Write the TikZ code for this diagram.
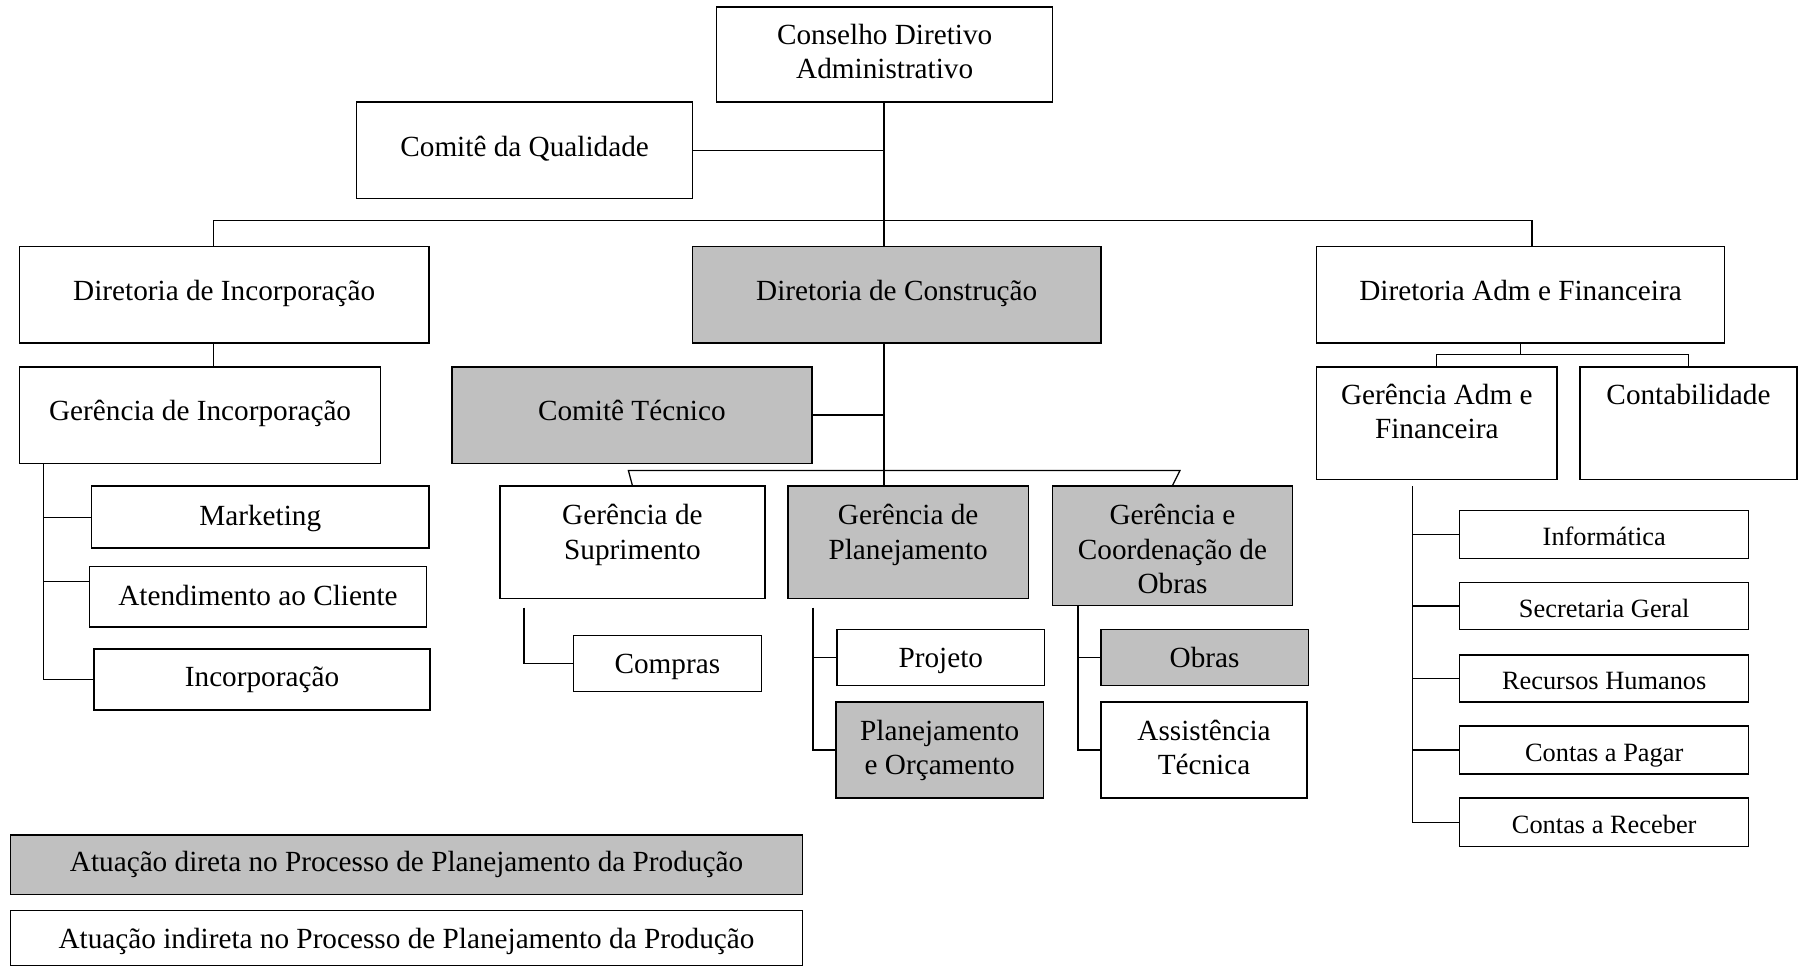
\documentclass[tikz,border=0pt]{standalone}
\usepackage{fontspec}
\setmainfont{Liberation Serif}
\usetikzlibrary{fit}
\definecolor{shade}{HTML}{C0C0C0}
\tikzset{
  box/.style={draw, line width=1.3pt, inner sep=0pt},
  grey/.style={box, fill=shade},
  txt/.style={anchor=north, inner sep=0pt, align=center,
    font=\fontsize{25.5}{30}\selectfont, execute at begin node=\strut},
  txts/.style={txt, font=\fontsize{23}{27}\selectfont},
  link/.style={line width=1.1pt},
}
\begin{document}
\begin{tikzpicture}[x=1pt, y=-1pt]
\useasboundingbox (0,0) rectangle (1568,843);

% top level
\node[box, fit={(625,6) (918,89)}] (cd) {};
\node[box, fit={(311,89) (604,173)}] (cq) {};
% directorates
\node[box, fit={(17,215) (374,299)}] (di) {};
\node[grey, fit={(604,215) (960,299)}] (dc) {};
\node[box, fit={(1148,215) (1504,299)}] (da) {};
% incorporation branch
\node[box, fit={(17,320) (332,404)}] (gi) {};
\node[box, fit={(80,424) (374,478)}] (mk) {};
\node[box, fit={(78,494) (372,547)}] (ac) {};
\node[box, fit={(82,566) (375,619)}] (ic) {};
% construction branch
\node[grey, fit={(394,320) (708,404)}] (ct) {};
\node[box, fit={(436,424) (667,522)}] (gs) {};
\node[grey, fit={(687,424) (897,522)}] (gp) {};
\node[grey, fit={(918,424) (1127,528)}] (go) {};
\node[box, fit={(500,554) (664,603)}] (cp) {};
\node[box, fit={(730,549) (911,598)}] (pj) {};
\node[grey, fit={(729,612) (910,696)}] (po) {};
\node[grey, fit={(960,549) (1141,598)}] (ob) {};
\node[box, fit={(960,612) (1140,696)}] (at) {};
% administrative branch
\node[box, fit={(1148,320) (1358,418)}] (ga) {};
\node[box, fit={(1378,320) (1567,418)}] (co) {};
\node[box, fit={(1273,445) (1525,487)}] (inf) {};
\node[box, fit={(1273,508) (1525,549)}] (sg) {};
\node[box, fit={(1273,571) (1525,612)}] (rh) {};
\node[box, fit={(1273,633) (1525,675)}] (cpg) {};
\node[box, fit={(1273,696) (1525,738)}] (crc) {};
% legend
\node[grey, fit={(9,728) (700,780)}] (lgd) {};
\node[box, fit={(9,794) (700,842)}] (lgi) {};

% labels
\node[txt] (cd-t) at ([yshift=-15.5pt]cd.north) {Conselho Diretivo\\Administrativo};
\node[txt] (cq-t) at ([yshift=-26.5pt]cq.north) {Comitê da Qualidade};
\node[txt] (di-t) at ([yshift=-26.5pt]di.north) {Diretoria de Incorporação};
\node[txt] (dc-t) at ([yshift=-26.5pt]dc.north) {Diretoria de Construção};
\node[txt] (da-t) at ([yshift=-26.5pt]da.north) {Diretoria Adm e Financeira};
\node[txt] (gi-t) at ([yshift=-26.5pt]gi.north) {Gerência de Incorporação};
\node[txt] (mk-t) at ([yshift=-13.5pt]mk.north) {Marketing};
\node[txt] (ac-t) at ([yshift=-13.5pt]ac.north) {Atendimento ao Cliente};
\node[txt] (ic-t) at ([yshift=-12.5pt]ic.north) {Incorporação};
\node[txt] (ct-t) at ([yshift=-26.5pt]ct.north) {Comitê Técnico};
\node[txt] (gs-t) at ([yshift=-16.5pt]gs.north) {Gerência de\\Suprimento};
\node[txt] (gp-t) at ([yshift=-16.5pt]gp.north) {Gerência de\\Planejamento};
\node[txt] (go-t) at ([yshift=-16.5pt]go.north) {Gerência e\\Coordenação de\\Obras};
\node[txt] (cp-t) at ([yshift=-12.5pt]cp.north) {Compras};
\node[txt] (pj-t) at ([yshift=-12.5pt]pj.north) {Projeto};
\node[txt] (po-t) at ([yshift=-16.5pt]po.north) {Planejamento\\e Orçamento};
\node[txt] (ob-t) at ([yshift=-12.5pt]ob.north) {Obras};
\node[txt] (at-t) at ([yshift=-16.5pt]at.north) {Assistência\\Técnica};
\node[txt] (ga-t) at ([yshift=-15.5pt]ga.north) {Gerência Adm e\\Financeira};
\node[txt] (co-t) at ([yshift=-12.5pt]co.north) {Contabilidade};
\node[txts] (inf-t) at ([yshift=-12.2pt]inf.north) {Informática};
\node[txts] (sg-t) at ([yshift=-12.2pt]sg.north) {Secretaria Geral};
\node[txts] (rh-t) at ([yshift=-12.2pt]rh.north) {Recursos Humanos};
\node[txts] (cpg-t) at ([yshift=-12.2pt]cpg.north) {Contas a Pagar};
\node[txts] (crc-t) at ([yshift=-12.2pt]crc.north) {Contas a Receber};
\node[txt] (lgd-t) at ([yshift=-11.5pt]lgd.north) {Atuação direta no Processo de Planejamento da Produção};
\node[txt] (lgi-t) at ([yshift=-12.5pt]lgi.north) {Atuação indireta no Processo de Planejamento da Produção};

% connectors: top
\coordinate (jtop) at (771,192);
\coordinate (xi) at (186,0);
\coordinate (xa) at (1336,0);
\draw[link] (cd.south -| jtop) -- (jtop |- dc.north);
\draw[link] (cq.east) -- (cq.east -| jtop);
\draw[link] (xi |- di.north) |- (jtop) -| (xa |- da.north);

% incorporation
\coordinate (xl) at (38,0);
\coordinate (acy) at (0,507);
\draw[link] (xi |- di.south) -- (xi |- gi.north);
\draw[link] (xl |- gi.south) |- (ic.west);
\draw[link] (xl |- mk.west) -- (mk.west);
\draw[link] (xl |- acy) -- (ac.west |- acy);

% construction
\draw[link] (dc.south -| jtop) -- (jtop |- gp.north);
\draw[link] (ct.east) -- (ct.east -| jtop);
\draw[link] (gs.north) -- ([xshift=-3.5pt, yshift=13pt]gs.north)
  -- ([xshift=6.5pt, yshift=13pt]go.north) -- (go.north);
\coordinate (xs) at (457,530);
\draw[link] (xs) |- (cp.west);
\coordinate (xp) at (709,530);
\draw[link] (xp) |- (po.west);
\draw[link] (xp |- pj.west) -- (pj.west);
\coordinate (xo) at (940,0);
\draw[link] (xo |- go.south) |- (at.west);
\draw[link] (xo |- ob.west) -- (ob.west);

% administration
\coordinate (jr) at (1326,309);
\draw[link] (da.south) -- (jr);
\draw[link] (ga.north) |- (jr) -| (co.north);
\coordinate (xr) at (1232,424);
\draw[link] (xr) |- (crc.west);
\foreach \n in {inf, sg, rh, cpg}
  \draw[link] (xr |- \n.west) -- (\n.west);
\end{tikzpicture}
\end{document}
